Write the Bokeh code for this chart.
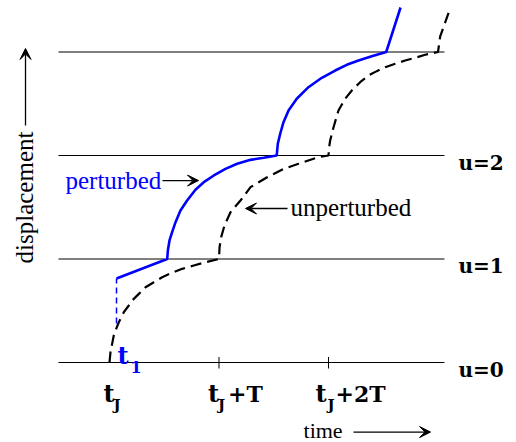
from bokeh.plotting import figure
from bokeh.models import Arrow, VeeHead, ColumnDataSource
from bokeh.core.properties import value
from bokeh.embed import file_html
from bokeh.resources import INLINE

# ---------------- data (time in units of T from t_J, displacement u) ----------------
levels = [0, 1, 2, 3]
level_labels = ["u=0", "u=1", "u=2"]
level_line_t = [-0.466, 3.059]

tick_t = [1, 2]
tick_label_t = [0, 1, 2]
tick_label_main = ["t", "t", "t"]
tick_label_sub = ["J", "J", "J"]
tick_label_rest = ["", "+T", "+2T"]

# unperturbed trajectory (dashed)
unp_t = [0, 0.009, 0.024, 0.039, 0.061, 0.085, 0.131, 0.176, 0.207, 0.268, 0.329, 0.405,
         0.481, 0.572, 0.664, 0.77, 0.877, 1.0,
         1.005, 1.02, 1.05, 1.105, 1.196, 1.288, 1.44, 1.592, 1.726, 1.909, 2.0,
         2.006, 2.015, 2.046, 2.091, 2.152, 2.213, 2.289, 2.365, 2.441, 2.518, 2.609,
         2.7, 2.792, 2.883, 3.0, 3.02, 3.114]
unp_u = [0, 0.1, 0.18, 0.261, 0.325, 0.389, 0.486, 0.551, 0.599, 0.663, 0.727, 0.776,
         0.824, 0.867, 0.905, 0.937, 0.969, 1.0,
         1.114, 1.211, 1.324, 1.452, 1.565, 1.694, 1.79, 1.871, 1.92, 1.984, 2.0,
         2.08, 2.145, 2.273, 2.435, 2.548, 2.628, 2.708, 2.773, 2.815, 2.853, 2.886,
         2.918, 2.944, 2.973, 3.0, 3.15, 3.43]

# perturbation at t1: jump
t1 = 0.064
jump_u = [0.377, 0.812]

# perturbed trajectory (solid blue)
pert_t = [0.064, 0.527, 0.533, 0.548, 0.572, 0.603, 0.648, 0.709, 0.785, 0.861, 0.953,
          1.059, 1.166, 1.288, 1.409, 1.527,
          1.537, 1.559, 1.589, 1.635, 1.71, 1.817, 1.939, 2.061, 2.167, 2.274, 2.395,
          2.527, 2.658]
pert_u = [0.812, 1.0, 1.082, 1.179, 1.259, 1.356, 1.469, 1.565, 1.669, 1.742, 1.807,
          1.871, 1.92, 1.958, 1.978, 2.0,
          2.113, 2.21, 2.322, 2.435, 2.548, 2.66, 2.751, 2.821, 2.876, 2.918, 2.959,
          3.0, 3.43]

BLUE = "#0000ff"
SERIF = "Liberation Serif"
BOLD = "DejaVu Serif"

p = figure(width=516, height=442, x_range=(-0.9954, 3.7169), y_range=(-0.7729, 3.4976),
           x_axis_type=None, y_axis_type=None, toolbar_location=None,
           output_backend="svg", min_border=0)
p.grid.visible = False
p.outline_line_color = None
p.background_fill_color = "white"
p.border_fill_color = "white"

# horizontal level lines
for lv in levels:
    p.line(x=level_line_t, y=[lv, lv], line_color="black", line_width=1)

# ticks
p.segment(x0=tick_t, y0=[-0.058] * len(tick_t), x1=tick_t, y1=[0.053] * len(tick_t),
          line_color="black", line_width=1)

# curves
p.line(x=unp_t, y=unp_u, line_color="black", line_width=2.2, line_dash="11 6")
p.line(x=[t1, t1], y=jump_u, line_color=BLUE, line_width=1.5, line_dash="6 4")
p.line(x=pert_t, y=pert_u, line_color=BLUE, line_width=2.6)

# level labels
p.text(x=[3.187] * 3, y=[lv - 0.068 for lv in levels[:3]], text=level_labels,
       text_font=value(BOLD), text_font_style="bold", text_font_size="20px",
       text_align="left", text_baseline="alphabetic", text_color="black")

# tick labels: t, subscript J, rest
src = ColumnDataSource(dict(
    x=tick_label_t, main=tick_label_main, sub=tick_label_sub, rest=tick_label_rest,
    ox_main=[-6, -11, -13], ox_sub=[4, -1, -1], ox_rest=[14, 9, 7]))
p.text(x="x", y=-0.300, text="main", x_offset="ox_main", source=src,
       text_font=value(BOLD), text_font_style="bold", text_font_size="24px",
       text_align="left", text_baseline="alphabetic", text_color="black")
p.text(x="x", y=-0.415, text="sub", x_offset="ox_sub", source=src,
       text_font=value(BOLD), text_font_style="bold", text_font_size="15px",
       text_align="left", text_baseline="alphabetic", text_color="black")
p.text(x="x", y=-0.300, text="rest", x_offset="ox_rest", source=src,
       text_font=value(BOLD), text_font_style="bold", text_font_size="22px",
       text_align="left", text_baseline="alphabetic", text_color="black")

# t1 label
p.text(x=[0.073], y=[0.068], text=["t"], text_font=value(BOLD), text_font_style="bold",
       text_font_size="24px", text_align="left", text_baseline="alphabetic", text_color=BLUE)
p.text(x=[0.192], y=[-0.048], text=["1"], text_font=value(BOLD), text_font_style="bold",
       text_font_size="16px", text_align="left", text_baseline="alphabetic", text_color=BLUE)

# plain labels
p.text(x=[-0.402], y=[1.758], text=["perturbed"], text_font=value(SERIF), text_font_size="25px",
       text_align="left", text_baseline="middle", text_color=BLUE)
p.text(x=[1.653], y=[1.498], text=["unperturbed"], text_font=value(SERIF), text_font_size="25px",
       text_align="left", text_baseline="middle", text_color="black")
p.text(x=[1.772], y=[-0.657], text=["time"], text_font=value(SERIF), text_font_size="22px",
       text_align="left", text_baseline="middle", text_color="black")
p.text(x=[-0.776], y=[1.594], text=["displacement"], angle=1.5708, text_font=value(SERIF),
       text_font_size="25px", text_align="center", text_baseline="middle", text_color="black")

# arrows
def head():
    return VeeHead(size=11, fill_color="black", line_color="black", line_width=1)

for xs, ys, xe, ye in [(-0.767, 2.29, -0.767, 3.034),
                       (2.228, -0.672, 2.932, -0.672),
                       (0.484, 1.758, 0.813, 1.758),
                       (1.626, 1.488, 1.242, 1.488)]:
    p.add_layout(Arrow(end=head(), x_start=xs, y_start=ys, x_end=xe, y_end=ye,
                       line_color="black", line_width=1.3))

open("out.html", "w").write(file_html(p, INLINE))
